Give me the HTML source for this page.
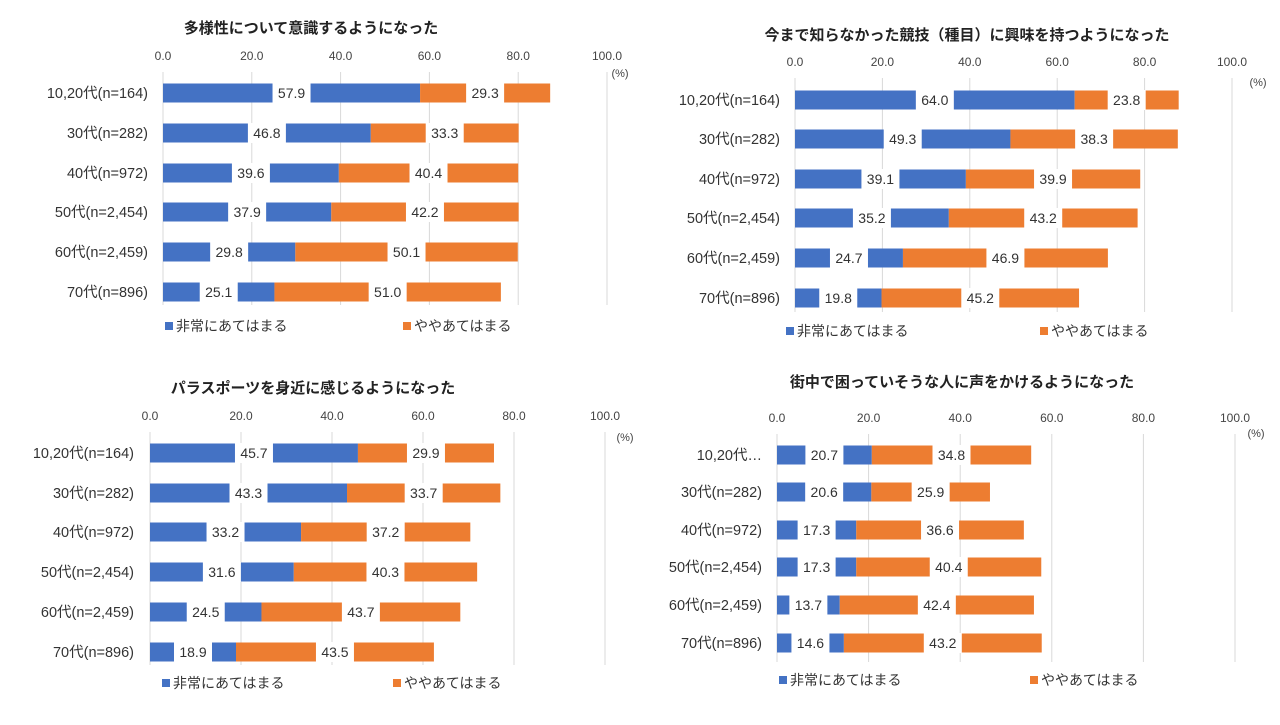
<!DOCTYPE html>
<html><head><meta charset="utf-8">
<style>
body{margin:0;background:#fff;width:1280px;height:720px;overflow:hidden;font-family:"Liberation Sans","Noto Sans CJK JP",sans-serif;}
svg text{font-family:"Liberation Sans","Noto Sans CJK JP",sans-serif;}
</style></head>
<body>
<svg id="c" width="1280" height="720"></svg>
<script>
const categories = ["10,20代(n=164)","30代(n=282)","40代(n=972)","50代(n=2,454)","60代(n=2,459)","70代(n=896)"];
const categoriesBR = ["10,20代…","30代(n=282)","40代(n=972)","50代(n=2,454)","60代(n=2,459)","70代(n=896)"];
const ticks = [0,20,40,60,80,100];
const titles = ["多様性について意識するようになった","今まで知らなかった競技（種目）に興味を持つようになった","パラスポーツを身近に感じるようになった","街中で困っていそうな人に声をかけるようになった"];
const legendLabels = ["非常にあてはまる","ややあてはまる"];
const strong1 = [57.9,46.8,39.6,37.9,29.8,25.1];
const some1 = [29.3,33.3,40.4,42.2,50.1,51.0];
const strong2 = [64.0,49.3,39.1,35.2,24.7,19.8];
const some2 = [23.8,38.3,39.9,43.2,46.9,45.2];
const strong3 = [45.7,43.3,33.2,31.6,24.5,18.9];
const some3 = [29.9,33.7,37.2,40.3,43.7,43.5];
const strong4 = [20.7,20.6,17.3,17.3,13.7,14.6];
const some4 = [34.8,25.9,36.6,40.4,42.4,43.2];

const NS="http://www.w3.org/2000/svg";
const svg=document.getElementById('c');
function mk(tag,attrs,parent,txt){const e=document.createElementNS(NS,tag);for(const k in attrs)e.setAttribute(k,attrs[k]);if(txt!==undefined)e.textContent=txt;(parent||svg).appendChild(e);return e;}

const layouts=[
 {x0:163,x1:607,rows:[93,133,173,212,252,292],ty:28,tx:311,tky:60,gy0:72,gy1:305,pct:[620,77],leg:[165,403,326],lab:148,cats:categories,s:strong1,o:some1},
 {x0:795,x1:1232,rows:[100,139,179,218,258,298],ty:35,tx:967,tky:66,gy0:78,gy1:312,pct:[1258,86],leg:[786,1040,331],lab:780,cats:categories,s:strong2,o:some2},
 {x0:150,x1:605,rows:[453,493,532,572,612,652],ty:388,tx:313,tky:420,gy0:432,gy1:665,pct:[625,441],leg:[162,393,683],lab:134,cats:categories,s:strong3,o:some3},
 {x0:777,x1:1235,rows:[455,492,530,567,605,643],ty:382,tx:962,tky:422,gy0:434,gy1:662,pct:[1256,437],leg:[779,1030,680],lab:762,cats:categoriesBR,s:strong4,o:some4}
];

layouts.forEach((L,ci)=>{
  const g=mk('g',{});
  
  
  const xs=v=>L.x0+(L.x1-L.x0)*v/100;
  const t=mk('text',{x:L.tx,y:L.ty+5,'text-anchor':'middle','font-size':15,'font-weight':'bold',fill:'#222'},g,titles[ci]);
  
  
  ticks.forEach(v=>{
    const l=mk('line',{x1:xs(v),x2:xs(v),y1:L.gy0,y2:L.gy1,stroke:'#d9d9d9','stroke-width':1},g);
    
    
    const tl=mk('text',{x:xs(v),y:L.tky,'text-anchor':'middle','font-size':12,fill:'#444'},g,v.toFixed(1));
    
    
  });
  const p=mk('text',{x:L.pct[0],y:L.pct[1],'text-anchor':'middle','font-size':11,fill:'#444'},g,'(%)');
  
  
  L.cats.forEach((c,i)=>{
    const y=L.rows[i];
    const cl=mk('text',{x:L.lab,y:y+5,'text-anchor':'end','font-size':14.5,fill:'#333'},g,c);
    
    
    const s=L.s[i],o=L.o[i];
    const b1=mk('rect',{x:xs(0),y:y-9.5,width:xs(s)-xs(0),height:19,fill:'#4472c4'},g);
    
    
    const b2=mk('rect',{x:xs(s),y:y-9.5,width:xs(s+o)-xs(s),height:19,fill:'#ed7d31'},g);
    
    
    [[s/2,s],[s+o/2,o]].forEach(([cx,v])=>{
      const X=xs(cx);
      const bg=mk('rect',{x:X-19,y:y-10,width:38,height:20,fill:'#fff'},g);
      
      
      const vl=mk('text',{x:X,y:y+5,'text-anchor':'middle','font-size':14,fill:'#333'},g,v.toFixed(1));
      
      
    });
  });
  const [lx1,lx2,ly]=L.leg;
  [[lx1,'#4472c4',legendLabels[0]],[lx2,'#ed7d31',legendLabels[1]]].forEach(([x,col,txt])=>{
    const sq=mk('rect',{x:x,y:ly-4,width:8,height:8,fill:col},g);
    
    
    const lt=mk('text',{x:x+11,y:ly+5,'font-size':14,fill:'#333'},g,txt);
    
    
  });
});
</script>
</body></html>
